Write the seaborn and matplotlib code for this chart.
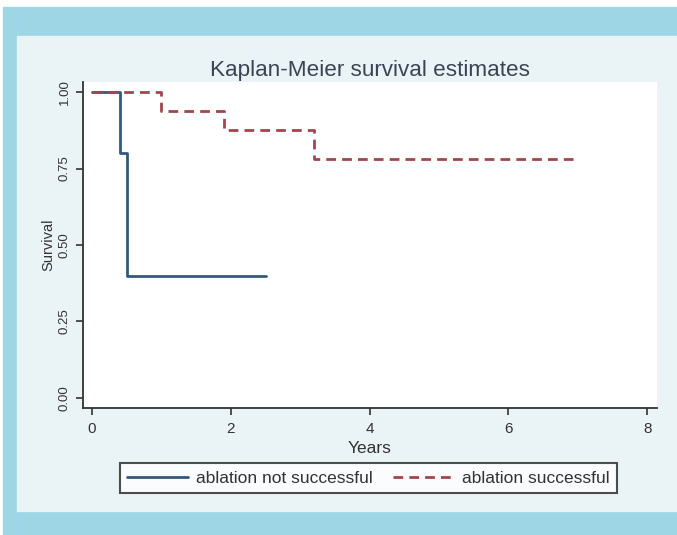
import matplotlib
matplotlib.use("Agg")
import matplotlib.pyplot as plt
from matplotlib.patches import Rectangle
import seaborn as sns
import pandas as pd

# Kaplan-Meier step points (years, survival)
t_not = [0, 0.4, 0.5, 2.5]
s_not = [1.0, 0.8, 0.4, 0.4]
t_succ = [0, 1.0, 1.9, 3.2, 7.0]
s_succ = [1.0, 0.9375, 0.875, 0.78, 0.78]
groups = ["ablation not successful", "ablation successful"]
x_ticks = [0, 2, 4, 6, 8]
y_ticks = [0.0, 0.25, 0.5, 0.75, 1.0]

df = pd.concat([
    pd.DataFrame({"Years": t_not, "Survival": s_not, "group": groups[0]}),
    pd.DataFrame({"Years": t_succ, "Survival": s_succ, "group": groups[1]}),
])

sns.set_style("ticks")
plt.rcParams["font.family"] = ["Liberation Sans", "DejaVu Sans"]

W, H = 677, 535
fig = plt.figure(figsize=(W / 100, H / 100), dpi=100, facecolor="white")

# frame: light blue border and pale panel
fig.patches.append(Rectangle((3 / W, 0), 1, 1 - 7 / H, transform=fig.transFigure,
                             color="#9ed6e5", zorder=-10))
fig.patches.append(Rectangle((17 / W, 1 - 511 / H), 1, (511 - 36) / H,
                             transform=fig.transFigure, color="#eaf3f6", zorder=-9))

ax = fig.add_axes([83 / W, 1 - 408 / H, (657 - 83) / W, (408 - 82) / H])
ax.set_facecolor("white")

palette = {groups[0]: "#34597d", groups[1]: "#a3454e"}
dashes = {groups[0]: "", groups[1]: (3.5, 2.2)}
sns.lineplot(data=df, x="Years", y="Survival", hue="group", style="group",
             palette=palette, dashes=dashes, drawstyle="steps-post",
             estimator=None, sort=False, linewidth=2.0, ax=ax, legend=False)

ax.set_xlim(-0.13, 8.14)
ax.set_ylim(-0.033, 1.033)
ax.set_xticks(x_ticks)
ax.set_xticklabels([str(v) for v in x_ticks], fontsize=11, color="#333333")
ax.set_yticks(y_ticks)
ax.set_yticklabels([f"{v:.2f}" for v in y_ticks], fontsize=9.5, rotation=90,
                   va="center", color="#333333")
ax.tick_params(axis="both", direction="out", length=5, width=1.2, color="#333333")
ax.tick_params(axis="y", pad=4)
ax.tick_params(axis="x", pad=5)

for s in ["top", "right"]:
    ax.spines[s].set_visible(False)
for s in ["left", "bottom"]:
    ax.spines[s].set_color("#333333")
    ax.spines[s].set_linewidth(1.3)

ax.set_xlabel("Years", fontsize=12.5, color="#333333", labelpad=4)
ax.set_ylabel("Survival", fontsize=10.5, color="#333333", labelpad=2)
ax.set_title("Kaplan-Meier survival estimates", fontsize=16.2, color="#3a4456", pad=4)

handles = [plt.Line2D([], [], color=palette[g], lw=2.0,
                      linestyle="-" if i == 0 else (0, (3.5, 2.2)))
           for i, g in enumerate(groups)]
leg = fig.legend(handles, groups, loc="center", ncol=2,
                 bbox_to_anchor=(368.5 / W, 1 - 478 / H), fontsize=12.5,
                 handlelength=3.5, handletextpad=0.5, columnspacing=1.15,
                 frameon=True, fancybox=False, borderpad=0.4)
leg.get_frame().set_edgecolor("#222222")
leg.get_frame().set_linewidth(1.5)
for txt in leg.get_texts():
    txt.set_color("#333333")

fig.savefig("out.png", dpi=100, facecolor=fig.get_facecolor())
